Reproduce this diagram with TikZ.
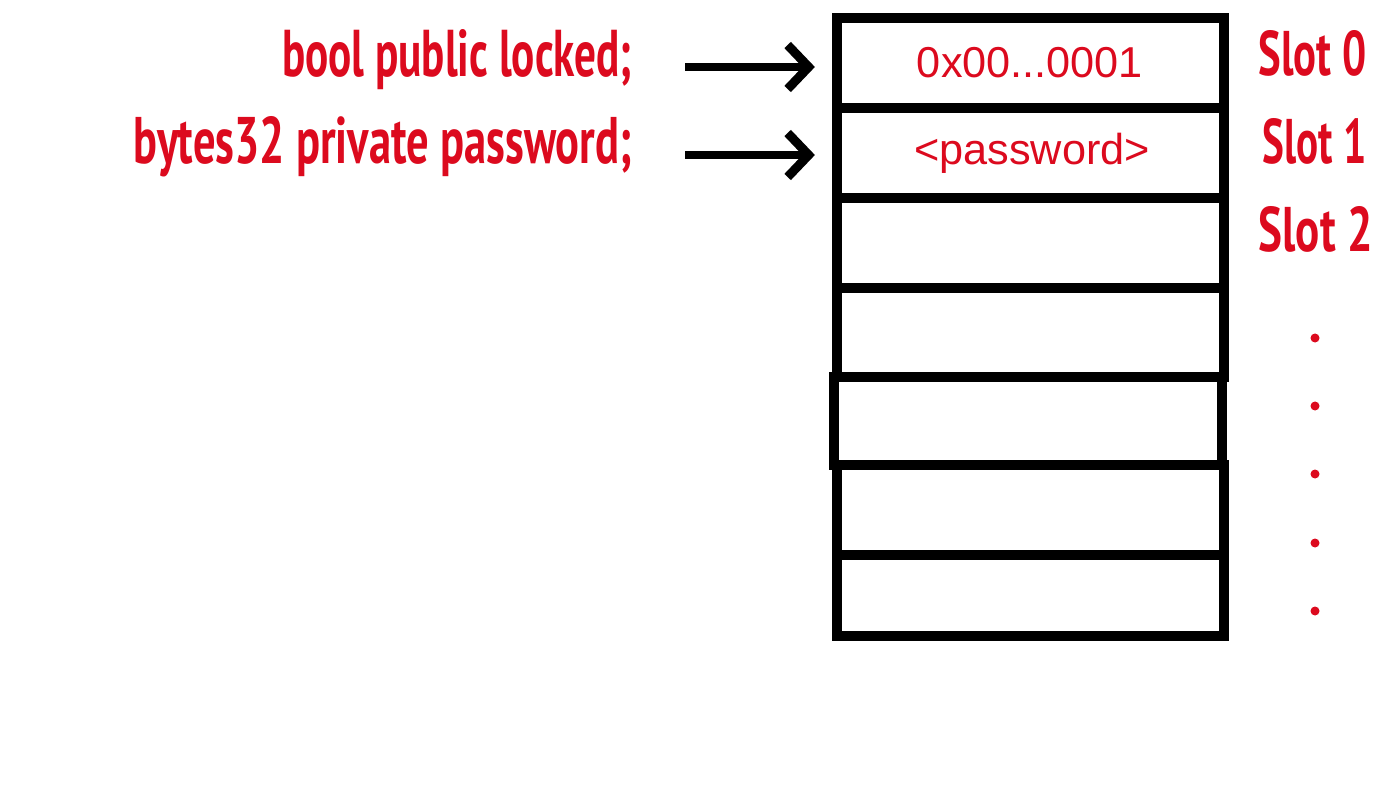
\documentclass[tikz,border=0pt]{standalone}
\usepackage{fontspec}
\setmainfont{Liberation Sans}
\newfontfamily\hand{PT Sans}
\usetikzlibrary{arrows.meta}
\definecolor{hred}{RGB}{220,10,30}
\begin{document}
\begin{tikzpicture}[x=0.01cm,y=-0.01cm,
  cell/.style={draw=black, line width=0.1cm, minimum width=3.87cm, inner sep=0pt},
  lbl/.style={text=hred, font=\hand\bfseries\fontsize{16}{18}\selectfont, inner sep=0pt, anchor=base east},
  slotlbl/.style={text=hred, font=\hand\bfseries\fontsize{16}{18}\selectfont, inner sep=0pt, anchor=base west},
  val/.style={text=hred, font=\fontsize{12.3}{14}\selectfont, inner sep=0pt},
  arr/.style={draw=black, line width=0.085cm, shorten <=0.52cm, shorten >=0.17cm,
    -{Straight Barb[length=0.21cm, width=0.44cm, line width=0.09cm, sharp]}},
  dotm/.style={circle, fill=hred, inner sep=0pt, minimum size=0.09cm}]
\useasboundingbox (0,0) rectangle (1400,788);
\fill[white] (0,0) rectangle (1400,788);
% cells
\node[cell, minimum height=0.90cm] (c0) at (1030.5,63) {};
\node[cell, minimum height=0.90cm] (c1) at (1030.5,153) {};
\node[cell, minimum height=0.90cm] (c2) at (1030.5,243) {};
\node[cell, minimum height=0.89cm] (c3) at (1030.5,332.5) {};
\node[cell, minimum height=0.88cm, minimum width=3.88cm] (c4) at (1028,421) {};
\node[cell, minimum height=0.90cm] (c5) at (1030.5,510) {};
\node[cell, minimum height=0.81cm] (c6) at (1030.5,595.5) {};
% values
\node[val] (v0) at (1030,63) {0x00...0001};
\node[val] (v1) at (1032,153) {<password>};
% left labels
\node[lbl] (l0) at (633,77) {\resizebox{3.5cm}{0.47cm}{bool public locked;}};
\node[lbl] (l1) at (633,164) {\resizebox{4.98cm}{0.47cm}{bytes32 private password;}};
% arrows
\draw[arr] ([yshift=-0.04cm]l0.east |- c0.west) -- ([yshift=-0.04cm]c0.west);
\draw[arr] ([yshift=-0.02cm]l1.east |- c1.west) -- ([yshift=-0.02cm]c1.west);
% slot labels
\node[slotlbl] (s0) at (1258,76) {\resizebox{1.08cm}{0.45cm}{Slot 0}};
\node[slotlbl] (s1) at (1262,164) {\resizebox{1.04cm}{0.45cm}{Slot 1}};
\node[slotlbl] (s2) at (1258,252) {\resizebox{1.14cm}{0.45cm}{Slot 2}};
% dots
\node[dotm] (d0) at (1315,338) {};
\node[dotm] (d1) at (1315,406) {};
\node[dotm] (d2) at (1315,474) {};
\node[dotm] (d3) at (1315,543) {};
\node[dotm] (d4) at (1315,611) {};
\end{tikzpicture}
\end{document}
